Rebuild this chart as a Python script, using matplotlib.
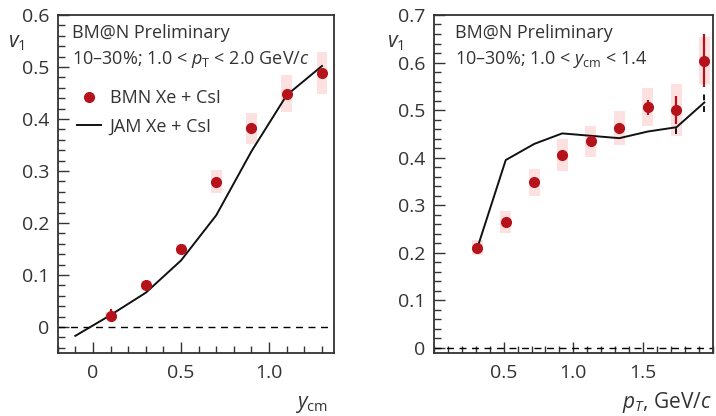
import matplotlib
matplotlib.use("Agg")
import matplotlib.pyplot as plt
from matplotlib.patches import Rectangle
from matplotlib.lines import Line2D
from matplotlib.ticker import FixedLocator, MultipleLocator
import numpy as np

plt.rcParams['font.family'] = ['Open Sans', 'DejaVu Sans']
plt.rcParams['mathtext.fontset'] = 'custom'
plt.rcParams['mathtext.rm'] = 'Open Sans'
plt.rcParams['mathtext.it'] = 'Open Sans:italic'

# v1 vs rapidity (left)
y_cm = [0.1, 0.3, 0.5, 0.7, 0.9, 1.1, 1.3]
v1_y = [0.022, 0.080, 0.150, 0.279, 0.382, 0.449, 0.489]
v1_y_stat = [0.012, 0.004, 0.004, 0.004, 0.005, 0.006, 0.007]
v1_y_sys = [0.006, 0.008, 0.010, 0.022, 0.030, 0.035, 0.040]
jam_y_x = [-0.1, 0.1, 0.3, 0.5, 0.7, 0.9, 1.1, 1.3]
jam_y_v1 = [-0.017, 0.023, 0.066, 0.128, 0.215, 0.338, 0.446, 0.502]

# v1 vs pT (right)
pt = [0.31, 0.515, 0.72, 0.92, 1.125, 1.33, 1.535, 1.74, 1.94]
v1_pt = [0.211, 0.264, 0.348, 0.406, 0.434, 0.462, 0.506, 0.500, 0.604]
v1_pt_stat = [0.004, 0.004, 0.005, 0.006, 0.007, 0.009, 0.016, 0.030, 0.056]
v1_pt_sys = [0.015, 0.023, 0.028, 0.033, 0.033, 0.036, 0.040, 0.055, 0.050]
jam_pt_x = [0.31, 0.515, 0.72, 0.92, 1.125, 1.33, 1.535, 1.74, 1.94]
jam_pt_v1 = [0.209, 0.395, 0.429, 0.451, 0.446, 0.441, 0.455, 0.464, 0.516]
jam_pt_err = [0, 0, 0, 0, 0, 0, 0, 0.015, 0.021]

red = '#b5121b'
pink = '#fde0e0'
axcol = '#333333'

fig = plt.figure(figsize=(7.16, 4.16), dpi=100)
ax1 = fig.add_axes([0.0806, 0.1514, 0.3863, 0.8125])
ax2 = fig.add_axes([0.6061, 0.1522, 0.3893, 0.8118])


def style(ax):
    for s in ax.spines.values():
        s.set_color(axcol)
        s.set_linewidth(1.3)
    ax.tick_params(which='both', direction='in', top=False, right=False,
                   color=axcol, width=1.0, labelcolor='#333333', labelsize=14)
    ax.tick_params(which='major', length=8)
    ax.tick_params(which='minor', length=5)
    ax.tick_params(axis='y', pad=6)
    ax.tick_params(axis='x', pad=8)


def draw(ax, x, v, stat, sys, bw):
    for xi, vi, si in zip(x, v, sys):
        ax.add_patch(Rectangle((xi - bw, vi - si), 2 * bw, 2 * si,
                               facecolor=pink, edgecolor='none', zorder=1))
    ax.errorbar(x, v, yerr=stat, fmt='o', color=red, ms=7, elinewidth=1.6,
                capsize=0, zorder=4)


# left panel
style(ax1)
ax1.set_xlim(-0.2, 1.37)
ax1.set_ylim(-0.05, 0.6)
ax1.axhline(0, color='black', lw=1.0, ls=(0, (5, 4)), zorder=2)
draw(ax1, y_cm, v1_y, v1_y_stat, v1_y_sys, 0.03)
ax1.plot(jam_y_x, jam_y_v1, color='#111111', lw=1.4, zorder=3)
ax1.xaxis.set_major_locator(FixedLocator([0, 0.5, 1.0]))
ax1.set_xticklabels(['0', '0.5', '1.0'])
ax1.xaxis.set_minor_locator(MultipleLocator(0.1))
ax1.yaxis.set_major_locator(FixedLocator([0, 0.1, 0.2, 0.3, 0.4, 0.5, 0.6]))
ax1.set_yticklabels(['0', '0.1', '0.2', '0.3', '0.4', '0.5', '0.6'])
ax1.yaxis.set_minor_locator(MultipleLocator(0.02))
ax1.text(0.052, 0.932, 'BM@N Preliminary', transform=ax1.transAxes,
         fontsize=13, color='#333333', va='baseline')
ax1.text(0.052, 0.855, r'10–30%; 1.0 < $p_\mathrm{T}$ < 2.0 GeV/$c$',
         transform=ax1.transAxes, fontsize=13, color='#333333', va='baseline')
handles = [Line2D([], [], ls='none', marker='o', ms=7, color=red),
           Line2D([], [], color='#111111', lw=1.4)]
ax1.legend(handles, ['BMN Xe + CsI', 'JAM Xe + CsI'], loc='upper left',
           bbox_to_anchor=(0.07, 0.78), frameon=False,
           fontsize=13, handlelength=1.3, handletextpad=0.5, labelspacing=0.55,
           borderpad=0, borderaxespad=0, labelcolor='#333333')
fig.text(8 / 716, 1 - 47 / 416, r'$v_1$', fontsize=15, color='#333333')
fig.text(328 / 716, 1 - 408 / 416, r'$y_\mathrm{cm}$', fontsize=15,
         color='#333333', ha='right')

# right panel
style(ax2)
ax2.set_xlim(0, 2.0)
ax2.set_ylim(-0.01, 0.7)
ax2.axhline(0, color='black', lw=1.0, ls=(0, (5, 4)), zorder=2)
draw(ax2, pt, v1_pt, v1_pt_stat, v1_pt_sys, 0.04)
ax2.plot(jam_pt_x, jam_pt_v1, color='#111111', lw=1.4, zorder=3)
eb = ax2.errorbar(jam_pt_x[-2:], jam_pt_v1[-2:], yerr=jam_pt_err[-2:], fmt='none',
                  ecolor='#111111', elinewidth=1.4, capsize=0, zorder=3)
eb[2][0].set_linestyle((0, (3, 3)))
ax2.xaxis.set_major_locator(FixedLocator([0.5, 1.0, 1.5]))
ax2.set_xticklabels(['0.5', '1.0', '1.5'])
ax2.xaxis.set_minor_locator(MultipleLocator(0.1))
ax2.yaxis.set_major_locator(FixedLocator([0, 0.1, 0.2, 0.3, 0.4, 0.5, 0.6, 0.7]))
ax2.set_yticklabels(['0', '0.1', '0.2', '0.3', '0.4', '0.5', '0.6', '0.7'])
ax2.yaxis.set_minor_locator(MultipleLocator(0.02))
ax2.text(0.075, 0.932, 'BM@N Preliminary', transform=ax2.transAxes,
         fontsize=13, color='#333333', va='baseline')
ax2.text(0.075, 0.855, r'10–30%; 1.0 < $y_\mathrm{cm}$ < 1.4',
         transform=ax2.transAxes, fontsize=13, color='#333333', va='baseline')
fig.text(387 / 716, 1 - 47 / 416, r'$v_1$', fontsize=15, color='#333333')
fig.text(712 / 716, 1 - 408 / 416, r'$p_T$, GeV/$c$', fontsize=15,
         color='#333333', ha='right')

fig.savefig('out.png', dpi=100)
